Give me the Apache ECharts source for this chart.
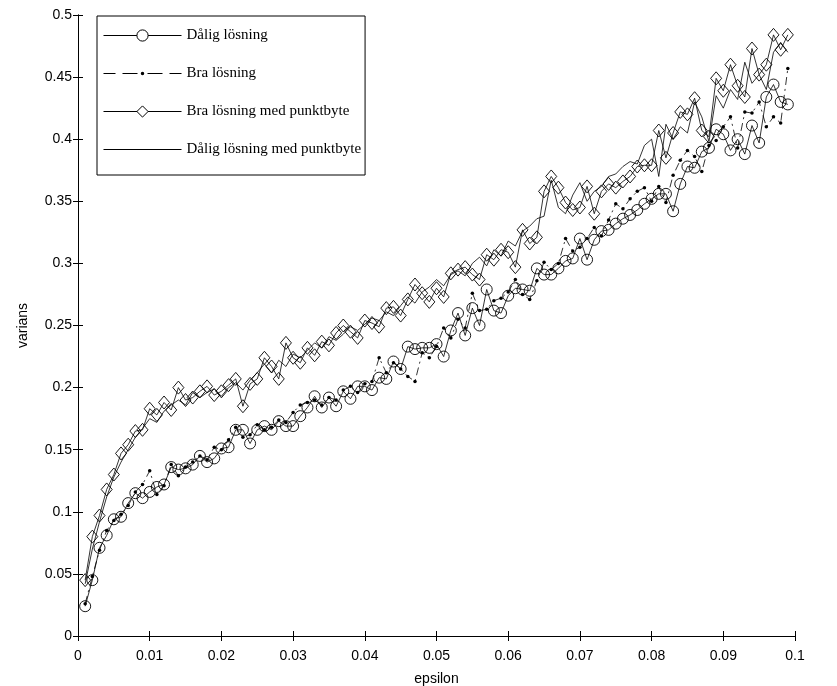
<!DOCTYPE html>
<html>
<head>
<meta charset="utf-8">
<script src="https://cdn.jsdelivr.net/npm/echarts@6/dist/echarts.min.js"></script>
<style>
  html, body { margin: 0; padding: 0; background: #fff; }
  #chart { width: 837px; height: 686px; }
</style>
</head>
<body>
<div id="chart"></div>
<script>
// epsilon grid: 0.001 ... 0.099
const epsilon = [];
for (let i = 1; i <= 99; i++) epsilon.push(i / 1000);

const seriesNames = [
  'Dålig lösning',
  'Bra lösning',
  'Bra lösning med punktbyte',
  'Dålig lösning med punktbyte'
];

const daligLosning = [
  0.024,0.045,0.071,0.081,0.094,0.096,0.107,0.115,0.111,0.116,
  0.120,0.122,0.136,0.134,0.135,0.138,0.145,0.140,0.143,0.151,
  0.152,0.166,0.166,0.155,0.166,0.169,0.166,0.173,0.169,0.169,
  0.177,0.184,0.193,0.184,0.192,0.185,0.197,0.191,0.201,0.201,
  0.198,0.208,0.207,0.221,0.215,0.233,0.231,0.232,0.232,0.235,
  0.225,0.246,0.260,0.242,0.264,0.250,0.279,0.262,0.260,0.274,
  0.280,0.279,0.278,0.296,0.291,0.291,0.296,0.302,0.304,0.320,
  0.303,0.319,0.326,0.327,0.332,0.336,0.339,0.343,0.348,0.352,
  0.356,0.356,0.342,0.364,0.378,0.377,0.390,0.393,0.408,0.404,
  0.391,0.400,0.388,0.411,0.397,0.434,0.444,0.430,0.428
];

const braLosning = [
  0.026,0.048,0.069,0.085,0.093,0.098,0.105,0.116,0.122,0.133,
  0.114,0.121,0.138,0.129,0.136,0.140,0.145,0.142,0.152,0.150,
  0.158,0.168,0.160,0.162,0.170,0.166,0.168,0.174,0.172,0.180,
  0.186,0.188,0.190,0.186,0.192,0.190,0.198,0.201,0.196,0.203,
  0.205,0.224,0.212,0.220,0.215,0.209,0.205,0.228,0.224,0.233,
  0.248,0.240,0.255,0.248,0.276,0.262,0.263,0.270,0.272,0.277,
  0.287,0.275,0.271,0.286,0.301,0.295,0.300,0.320,0.310,0.313,
  0.320,0.329,0.322,0.335,0.348,0.344,0.352,0.358,0.361,0.350,
  0.362,0.349,0.371,0.383,0.391,0.386,0.374,0.395,0.399,0.410,
  0.418,0.393,0.422,0.421,0.430,0.410,0.418,0.413,0.457
];

const braMedPunktbyte = [
  0.045,0.080,0.097,0.118,0.130,0.147,0.154,0.165,0.166,0.183,
  0.178,0.188,0.182,0.200,0.190,0.192,0.197,0.201,0.194,0.197,
  0.202,0.207,0.185,0.203,0.207,0.224,0.217,0.207,0.236,0.224,
  0.220,0.232,0.226,0.237,0.234,0.244,0.250,0.245,0.240,0.254,
  0.252,0.249,0.264,0.265,0.258,0.271,0.283,0.276,0.269,0.280,
  0.273,0.292,0.295,0.297,0.291,0.287,0.307,0.303,0.311,0.309,
  0.297,0.327,0.316,0.321,0.358,0.370,0.361,0.349,0.343,0.345,
  0.362,0.340,0.358,0.364,0.361,0.366,0.370,0.378,0.379,0.379,
  0.407,0.385,0.405,0.422,0.420,0.433,0.407,0.402,0.449,0.439,
  0.460,0.443,0.434,0.473,0.452,0.460,0.484,0.472,0.484
];

const daligMedPunktbyte = [
  0.042,0.070,0.092,0.112,0.128,0.140,0.150,0.160,0.167,0.175,
  0.172,0.181,0.186,0.190,0.186,0.196,0.192,0.196,0.199,0.193,
  0.200,0.204,0.198,0.206,0.212,0.219,0.212,0.222,0.217,0.227,
  0.224,0.230,0.236,0.232,0.241,0.238,0.243,0.249,0.246,0.251,
  0.256,0.254,0.261,0.258,0.266,0.273,0.268,0.277,0.281,0.287,
  0.282,0.291,0.294,0.290,0.300,0.305,0.298,0.311,0.306,0.318,
  0.314,0.326,0.330,0.336,0.338,0.367,0.345,0.340,0.355,0.365,
  0.350,0.358,0.362,0.370,0.372,0.378,0.382,0.380,0.395,0.400,
  0.370,0.412,0.400,0.410,0.405,0.430,0.418,0.398,0.435,0.425,
  0.440,0.432,0.462,0.445,0.452,0.440,0.470,0.478,0.470
];

function pairs(values) {
  return epsilon.map((x, i) => [x, values[i]]);
}

const labelFont = { fontFamily: 'Liberation Sans, Arial, sans-serif', fontSize: 14, color: '#000' };
const fmt = v => String(+v.toFixed(3));

// Legend glyphs: dash-dot stroke with a dot, and a plain stroke (10 units per pixel)
const dashDotIcon = 'path://' +
  'M0,13.5H120V21.5H0Z' +
  'M190,13.5H340V21.5H190Z' +
  'M440,13.5H590V21.5H440Z' +
  'M660,13.5H780V21.5H660Z' +
  'M372.5,17.5A17.5,17.5 0 1,0 407.5,17.5A17.5,17.5 0 1,0 372.5,17.5Z';
const plainLineIcon = 'path://M0,0H780V8H0Z';

const chart = echarts.init(document.getElementById('chart'), null, { renderer: 'canvas' });

const lineBase = { type: 'line', animation: false, z: 3 };
const hollowLegendItem = { color: '#fff', borderColor: '#000', borderWidth: 1 };
const thinLegendLine = { color: '#000', width: 1 };

chart.setOption({
  backgroundColor: '#fff',
  animation: false,
  grid: { left: 78, right: 42, top: 15, bottom: 50, containLabel: false, outerBoundsMode: 'none' },
  legend: {
    orient: 'vertical',
    left: 97,
    top: 16,
    padding: [12, 4, 18, 6],
    itemWidth: 78,
    itemHeight: 14,
    itemGap: 23,
    symbolKeepAspect: true,
    backgroundColor: '#fff',
    borderColor: '#000',
    borderWidth: 1,
    textStyle: { fontFamily: 'Liberation Serif, DejaVu Serif, serif', fontSize: 15, color: '#000' },
    data: [
      { name: seriesNames[0], itemStyle: hollowLegendItem, lineStyle: thinLegendLine },
      { name: seriesNames[1], icon: dashDotIcon },
      { name: seriesNames[2], itemStyle: hollowLegendItem, lineStyle: thinLegendLine },
      { name: seriesNames[3], icon: plainLineIcon }
    ]
  },
  xAxis: [
    {
      type: 'value', min: 0, max: 0.1, interval: 0.01,
      name: 'epsilon', nameLocation: 'middle', nameGap: 36,
      nameTextStyle: labelFont,
      axisLine: { lineStyle: { color: '#000', width: 1 } },
      axisTick: { inside: true, length: 5, lineStyle: { color: '#000' } },
      axisLabel: Object.assign({ margin: 13, formatter: fmt }, labelFont),
      splitLine: { show: false }
    },
    {
      type: 'value', min: 0, max: 0.1, interval: 0.01, position: 'top',
      axisLine: { lineStyle: { color: '#000', width: 1 } },
      axisTick: { inside: true, length: 5, lineStyle: { color: '#000' } },
      axisLabel: { show: false },
      splitLine: { show: false }
    }
  ],
  yAxis: [
    {
      type: 'value', min: 0, max: 0.5, interval: 0.05,
      name: 'varians', nameLocation: 'middle', nameGap: 48, nameRotate: 90,
      nameTextStyle: labelFont,
      axisLine: { show: true, lineStyle: { color: '#000', width: 1 } },
      axisTick: { show: true, inside: true, length: 5, lineStyle: { color: '#000' } },
      axisLabel: Object.assign({ margin: 6, formatter: fmt }, labelFont),
      splitLine: { show: false }
    },
    {
      type: 'value', min: 0, max: 0.5, interval: 0.05, position: 'right',
      axisLine: { show: true, lineStyle: { color: '#000', width: 1 } },
      axisTick: { show: true, inside: true, length: 5, lineStyle: { color: '#000' } },
      axisLabel: { show: false },
      splitLine: { show: false }
    }
  ],
  series: [
    Object.assign({}, lineBase, {
      name: seriesNames[0],
      data: pairs(daligLosning),
      symbol: 'circle', symbolSize: 11, showSymbol: true,
      lineStyle: { color: '#000', width: 0.8 },
      itemStyle: { color: 'rgba(0,0,0,0)', borderColor: '#000', borderWidth: 0.9 }
    }),
    Object.assign({}, lineBase, {
      name: seriesNames[1],
      data: pairs(braLosning),
      symbol: 'circle', symbolSize: 3.5, showSymbol: true,
      lineStyle: { color: '#000', width: 0.8, type: [8, 4, 2, 4] },
      itemStyle: { color: '#000', borderWidth: 0 }
    }),
    Object.assign({}, lineBase, {
      name: seriesNames[2],
      data: pairs(braMedPunktbyte),
      symbol: 'diamond', symbolSize: [11, 13], showSymbol: true,
      lineStyle: { color: '#000', width: 0.8 },
      itemStyle: { color: 'rgba(0,0,0,0)', borderColor: '#000', borderWidth: 0.9 }
    }),
    Object.assign({}, lineBase, {
      name: seriesNames[3],
      data: pairs(daligMedPunktbyte),
      symbol: 'none', showSymbol: false,
      lineStyle: { color: '#000', width: 0.8 },
      itemStyle: { color: '#000', borderWidth: 0 }
    })
  ]
});
</script>
</body>
</html>
